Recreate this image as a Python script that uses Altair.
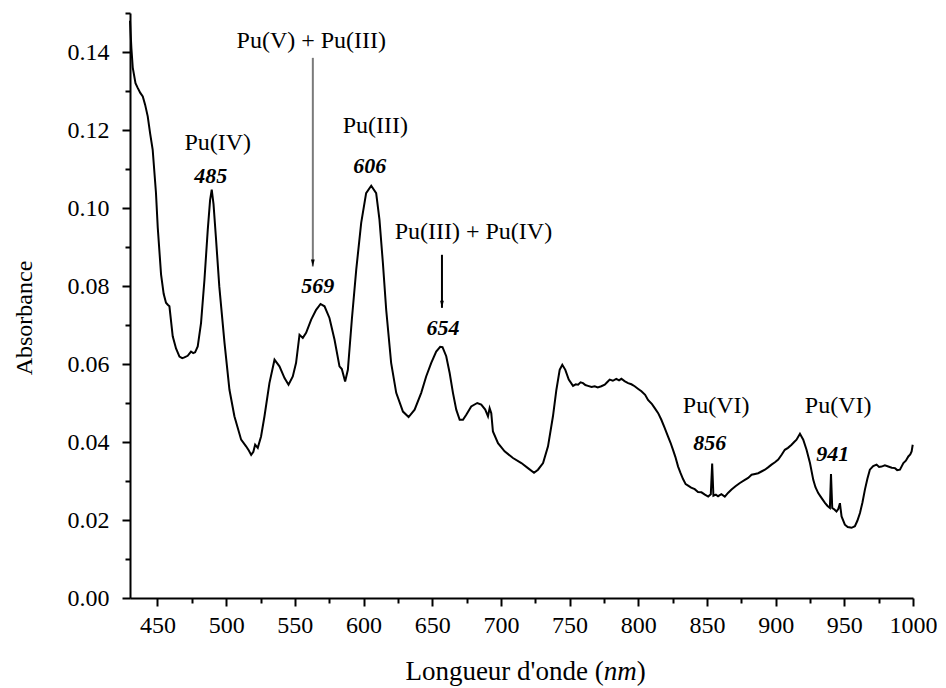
import altair as alt
import pandas as pd

# ---- spectrum ----
wavelength = [430.0, 431.0, 432.0, 434.0, 435.6, 437.5, 439.3, 441.0, 442.9, 444.7, 446.5, 448.9,
              450.2, 452.6, 454.5, 456.2, 457.5, 458.7, 461.1, 463.5, 466.0, 468.0, 469.6, 472.0,
              474.4, 476.0, 477.4, 479.3, 481.7, 484.2, 486.6, 488.3, 489.5, 490.8, 492.5, 495.0,
              498.8, 502.4, 506.0, 510.9, 514.5, 516.5, 518.2, 519.8, 521.1, 523.0, 525.4, 527.9,
              531.5, 535.2, 538.8, 542.5, 545.4, 548.5, 550.9, 553.4, 555.8, 558.2, 561.9, 565.5,
              568.7, 571.6, 575.2, 578.9, 582.5, 584.2, 586.6, 588.6, 591.5, 594.7, 598.3, 601.9,
              605.6, 609.2, 611.6, 614.1, 616.5, 620.1, 623.8, 628.7, 632.8, 637.2, 642.0, 645.6,
              649.3, 652.9, 655.8, 657.5, 660.2, 662.7, 665.1, 667.5, 670.0, 672.4, 674.8, 678.4,
              682.8, 685.7, 688.6, 690.6, 691.8, 693.0, 694.2, 697.9, 702.7, 708.8, 714.9, 719.7,
              724.1, 727.0, 730.7, 734.3, 737.9, 740.4, 742.8, 744.7, 746.9, 749.4, 752.5, 754.5,
              756.2, 758.0, 759.8, 761.5, 763.4, 766.0, 768.3, 770.5, 773.1, 775.6, 777.5, 779.2,
              781.5, 784.0, 786.0, 787.7, 790.0, 792.6, 795.0, 797.4, 800.0, 802.3, 805.0, 807.1,
              810.0, 812.0, 814.5, 816.8, 819.0, 821.7, 823.5, 825.3, 827.0, 829.0, 830.8, 832.6,
              834.5, 836.3, 838.5, 841.1, 843.5, 846.0, 848.5, 850.9, 852.8, 853.8, 854.7, 856.5,
              858.1, 860.5, 863.0, 865.5, 867.9, 871.0, 874.0, 877.6, 880.0, 882.5, 885.0, 887.3,
              890.0, 892.2, 894.5, 897.0, 899.5, 901.9, 904.5, 906.7, 909.0, 911.6, 913.5, 915.2,
              917.7, 920.1, 922.5, 925.0, 927.4, 929.0, 931.0, 933.5, 935.9, 937.8, 939.5, 940.3,
              941.2, 942.8, 944.3, 945.6, 946.8, 948.0, 950.4, 952.5, 955.3, 957.7, 959.5, 961.4,
              963.2, 965.0, 966.8, 968.6, 971.0, 973.5, 975.3, 977.1, 979.5, 982.0, 984.5, 986.9,
              988.5, 990.5, 993.0, 994.8, 996.6, 998.0, 999.0, 999.8]
absorbance = [0.148, 0.141, 0.136, 0.132, 0.1308, 0.1295, 0.1286, 0.1265, 0.1235, 0.119, 0.115, 0.1039,
              0.095, 0.083, 0.078, 0.0757, 0.0752, 0.0748, 0.0671, 0.064, 0.0619, 0.0615, 0.0617, 0.0621,
              0.0632, 0.0628, 0.063, 0.0645, 0.0705, 0.0816, 0.0944, 0.102, 0.1047, 0.101, 0.0927, 0.0799,
              0.0654, 0.0534, 0.0466, 0.0406, 0.0389, 0.0378, 0.0367, 0.0375, 0.0393, 0.0385, 0.0414, 0.0466,
              0.0551, 0.0611, 0.0594, 0.0564, 0.0547, 0.0568, 0.0603, 0.0675, 0.0667, 0.068, 0.0714, 0.0739,
              0.0754, 0.0748, 0.0718, 0.0662, 0.0594, 0.0587, 0.0555, 0.0585, 0.0714, 0.0842, 0.0962, 0.1038,
              0.1057, 0.1038, 0.097, 0.0859, 0.0739, 0.0603, 0.0526, 0.0478, 0.0464, 0.0483, 0.0526, 0.0568,
              0.0603, 0.0632, 0.0644, 0.0643, 0.062, 0.0577, 0.0526, 0.0483, 0.0457, 0.0457, 0.047, 0.0491,
              0.05, 0.0496, 0.0483, 0.0466, 0.0487, 0.0474, 0.0427, 0.0397, 0.0376, 0.0359, 0.0346, 0.0333,
              0.0321, 0.0329, 0.0346, 0.0389, 0.0466, 0.0534, 0.0585, 0.0598, 0.0585, 0.056, 0.0544, 0.0548,
              0.0547, 0.0553, 0.0551, 0.0546, 0.0544, 0.0541, 0.0543, 0.054, 0.0543, 0.0547, 0.0554, 0.056,
              0.0557, 0.0562, 0.0558, 0.0562, 0.0556, 0.0551, 0.0548, 0.0543, 0.0536, 0.053, 0.0521, 0.0508,
              0.0497, 0.0487, 0.0474, 0.0457, 0.0438, 0.0414, 0.0398, 0.038, 0.0362, 0.0337, 0.032, 0.0305,
              0.0292, 0.0288, 0.0283, 0.0279, 0.0272, 0.0271, 0.0265, 0.026, 0.0266, 0.0345, 0.0262, 0.0265,
              0.0261, 0.0266, 0.026, 0.027, 0.0278, 0.0287, 0.0295, 0.0303, 0.0308, 0.0316, 0.0318, 0.032,
              0.0325, 0.0329, 0.0335, 0.0342, 0.0348, 0.0355, 0.0368, 0.038, 0.0385, 0.0393, 0.04, 0.0406,
              0.0421, 0.0406, 0.038, 0.0346, 0.0303, 0.0284, 0.0269, 0.0256, 0.0244, 0.0236, 0.0231, 0.0318,
              0.0231, 0.0227, 0.0222, 0.0228, 0.0243, 0.0209, 0.0188, 0.0182, 0.018, 0.0184, 0.0198, 0.0218,
              0.0245, 0.0278, 0.0306, 0.0329, 0.0338, 0.0342, 0.0336, 0.0337, 0.034, 0.0337, 0.0334, 0.0333,
              0.0328, 0.0329, 0.0346, 0.0352, 0.0363, 0.0368, 0.0376, 0.0393]

# ---- axis ticks ----
x_major = [450, 500, 550, 600, 650, 700, 750, 800, 850, 900, 950, 1000]
x_minor = [475, 525, 575, 625, 675, 725, 775, 825, 875, 925, 975]
y_major = [0.00, 0.02, 0.04, 0.06, 0.08, 0.10, 0.12, 0.14]
y_minor = [0.01, 0.03, 0.05, 0.07, 0.09, 0.11, 0.13, 0.15]

# ---- annotations ----
species_text = ["Pu(IV)", "Pu(V) + Pu(III)", "Pu(III)", "Pu(III) + Pu(IV)", "Pu(VI)", "Pu(VI)"]
species_x = [493.9, 562.0, 608.6, 680.0, 856.7, 945.5]
species_y = [0.1149, 0.1410, 0.1193, 0.0921, 0.0475, 0.0475]

peak_text = ["485", "569", "606", "654", "856", "941"]
peak_x = [488.8, 566.7, 604.6, 657.8, 852.1, 941.5]
peak_y = [0.1065, 0.0783, 0.1090, 0.0675, 0.0380, 0.0352]

arrow_x = [563.1, 657.1]
arrow_top = [0.1385, 0.0880]
arrow_tip = [0.0850, 0.0744]
arrow_color = ["#7a7a7a", "#000000"]

FONT = "Liberation Serif"
W, H = 783, 585

spec = pd.DataFrame({"nm": wavelength, "abs": absorbance})
species = pd.DataFrame({"t": species_text, "x": species_x, "y": species_y})
peaks = pd.DataFrame({"t": peak_text, "x": peak_x, "y": peak_y})
arrows = pd.DataFrame({"x": arrow_x, "y": arrow_top, "y2": arrow_tip, "c": arrow_color})

xscale = alt.Scale(domain=[430, 1000], nice=False, zero=False)
yscale = alt.Scale(domain=[0, 0.15], nice=False, zero=True)

axis_common = dict(labelFont=FONT, labelFontSize=24, labelColor="black", labelFlush=False,
                   labelOverlap=False, labelBound=False,
                   domainColor="black", tickColor="black", domainWidth=2, tickWidth=2,
                   grid=False, title=None)

line = alt.Chart(spec).mark_line(color="black", strokeWidth=2).encode(
    x=alt.X("nm:Q", scale=xscale,
            axis=alt.Axis(values=x_major, orient="bottom", tickSize=8, labelPadding=7,
                          format="d", **axis_common)),
    y=alt.Y("abs:Q", scale=yscale,
            axis=alt.Axis(values=y_major, orient="left", tickSize=8, labelPadding=13,
                          format=".2f", **axis_common)),
)

minor = alt.Chart(spec).mark_point(opacity=0).encode(
    x=alt.X("nm:Q", scale=xscale,
            axis=alt.Axis(values=x_minor, orient="bottom", tickSize=5, labels=False,
                          domain=False, grid=False, title=None, tickColor="black", tickWidth=2)),
    y=alt.Y("abs:Q", scale=yscale,
            axis=alt.Axis(values=y_minor, orient="left", tickSize=5, labels=False,
                          domain=False, grid=False, title=None, tickColor="black", tickWidth=2)),
)

XN = dict(scale=xscale, axis=None)
YN = dict(scale=yscale, axis=None)

species_layer = alt.Chart(species).mark_text(
    font=FONT, fontSize=24, color="black", baseline="alphabetic", align="center"
).encode(x=alt.X("x:Q", **XN), y=alt.Y("y:Q", **YN), text="t:N")

peak_layer = alt.Chart(peaks).mark_text(
    font=FONT, fontSize=22, fontStyle="italic", fontWeight="bold", color="black",
    baseline="alphabetic", align="center"
).encode(x=alt.X("x:Q", **XN), y=alt.Y("y:Q", **YN), text="t:N")

arrow_lines = alt.Chart(arrows).mark_rule(strokeWidth=2).encode(
    x=alt.X("x:Q", **XN), y=alt.Y("y:Q", **YN), y2="y2:Q",
    color=alt.Color("c:N", scale=None),
)

arrow_heads = alt.Chart(arrows).mark_point(
    shape="M-0.27,-1L0.27,-1L0,0Z", filled=True, color="black", opacity=1, size=196
).encode(x=alt.X("x:Q", **XN), y=alt.Y("y2:Q", **YN))

title_df = pd.DataFrame({"k": [0]})
xt1 = alt.Chart(title_df).mark_text(font=FONT, fontSize=27, color="black", align="right",
                                    baseline="alphabetic", text="Longueur d'onde (").encode(
    x=alt.value(473.7), y=alt.value(667))
xt2 = alt.Chart(title_df).mark_text(font=FONT, fontSize=27, color="black", align="left",
                                    baseline="alphabetic", fontStyle="italic", text="nm").encode(
    x=alt.value(473.7), y=alt.value(667))
xt3 = alt.Chart(title_df).mark_text(font=FONT, fontSize=27, color="black", align="left",
                                    baseline="alphabetic", text=")").encode(
    x=alt.value(506.7), y=alt.value(667))
yt = alt.Chart(title_df).mark_text(font=FONT, fontSize=24, color="black", align="center",
                                   baseline="middle", angle=270, text="Absorbance").encode(
    x=alt.value(-105), y=alt.value(305))

chart = alt.layer(
    line, minor, arrow_lines, arrow_heads, species_layer, peak_layer, xt1, xt2, xt3, yt
).resolve_axis(x="independent", y="independent").properties(
    width=W, height=H,
    autosize=alt.AutoSizeParams(type="none"),
    padding={"left": 122, "top": 5, "right": 24, "bottom": 90},
).configure(
    background="white", font=FONT
).configure_view(
    stroke="transparent", strokeWidth=0
).configure_axis(
    labelFont=FONT
)

chart.save("out.html", embed_options={"renderer": "svg", "actions": False})
